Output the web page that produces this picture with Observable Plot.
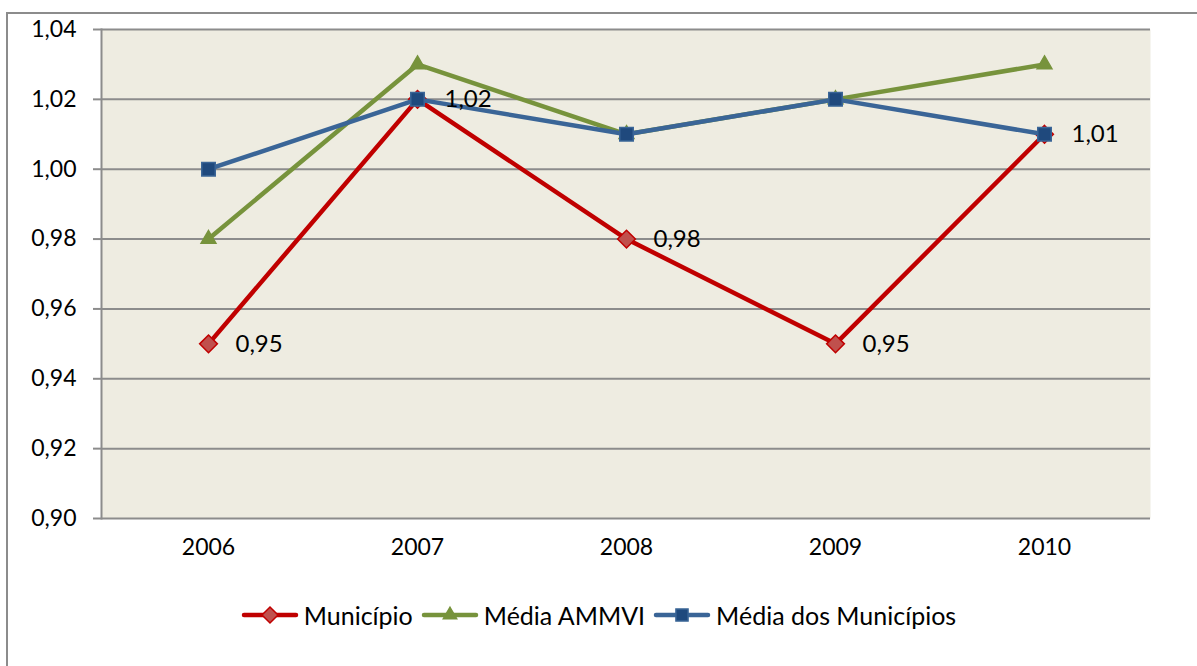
<!DOCTYPE html>
<html>
<head>
<meta charset="utf-8">
<script src="https://cdn.jsdelivr.net/npm/d3@7"></script>
<script src="https://cdn.jsdelivr.net/npm/@observablehq/plot@0.6"></script>
<style>
  html, body { margin: 0; padding: 0; background: #fff; }
  body { width: 1197px; height: 666px; position: relative; overflow: hidden; font-family: Lato, "Open Sans", sans-serif; }
  #border { position: absolute; left: 6px; top: 12px; width: 1200px; height: 700px; border-top: 2px solid #8c8c8c; border-left: 2px solid #8c8c8c; pointer-events: none; }
  #chart { position: absolute; left: 0; top: 0; }
  #legend { position: absolute; left: 0; top: 590px; width: 1197px; height: 50px; display: flex; justify-content: center; align-items: center; font-size: 25px; color: #000; }
  .item { display: flex; align-items: center; margin: 0 4px; }
  .item svg { margin-right: 5px; }
</style>
</head>
<body>
<div id="chart"></div>
<div id="legend"></div>
<div id="border"></div>
<script>
const years = ["2006", "2007", "2008", "2009", "2010"];
const municipio = [0.95, 1.02, 0.98, 0.95, 1.01];
const mediaAMMVI = [0.98, 1.03, 1.01, 1.02, 1.03];
const mediaMunicipios = [1.00, 1.02, 1.01, 1.02, 1.01];
const yTicks = [0.90, 0.92, 0.94, 0.96, 0.98, 1.00, 1.02, 1.04];
const seriesNames = ["Município", "Média AMMVI", "Média dos Municípios"];

const fmt = d => d.toFixed(2).replace(".", ",");
const rows = vals => years.map((y, i) => ({year: y, v: vals[i]}));

const styles = [
  {line: "#C00000", fill: "#C0504D", stroke: "#C00000", symbol: "diamond2", r: 8},
  {line: "#77933C", fill: "#77933C", stroke: "#77933C", symbol: "triangle", r: 5.5},
  {line: "#3A6597", fill: "#1F497D", stroke: "#3A6597", symbol: "square", r: 7.6}
];
const data = [municipio, mediaAMMVI, mediaMunicipios].map(rows);

const marks = [
  Plot.frame({fill: "#EEECE1", stroke: null}),
  Plot.ruleY(yTicks, {stroke: "#8c8c8c", strokeWidth: 2}),
  Plot.axisY({ticks: yTicks, tickFormat: fmt, tickSize: 8, tickPadding: 17, stroke: "#8c8c8c", strokeWidth: 2, fill: "#000", fontSize: 23}),
  Plot.axisX({tickSize: 0, tickPadding: 20, fill: "#000", fontSize: 23}),
  Plot.frame({anchor: "left", stroke: "#8c8c8c", strokeWidth: 2})
];
[0, 1, 2].forEach(k => {
  marks.push(Plot.line(data[k], {x: "year", y: "v", stroke: styles[k].line, strokeWidth: 4.5, strokeLinejoin: "round", strokeLinecap: "round"}));
  marks.push(Plot.dot(data[k], {x: "year", y: "v", symbol: styles[k].symbol, r: styles[k].r, fill: styles[k].fill, stroke: styles[k].stroke, strokeWidth: 1.5}));
});
marks.push(Plot.text(data[0], {x: "year", y: "v", text: d => fmt(d.v), dx: 27, textAnchor: "start", fill: "#000", fontSize: 24}));

const plot = Plot.plot({
  width: 1197,
  height: 590,
  marginLeft: 101,
  marginRight: 47,
  marginTop: 29,
  marginBottom: 72,
  style: {fontFamily: "Lato, 'Open Sans', sans-serif", color: "#000", background: "transparent"},
  x: {type: "point", domain: years, padding: 0.5, label: null},
  y: {domain: [0.90, 1.04], label: null},
  marks
});
document.getElementById("chart").appendChild(plot);

// legend
const legend = document.getElementById("legend");
const sym = {diamond2: d3.symbolDiamond2, triangle: d3.symbolTriangle, square: d3.symbolSquare};
seriesNames.forEach((name, k) => {
  const s = styles[k];
  const item = document.createElement("div");
  item.className = "item";
  const svg = d3.create("svg").attr("width", 58).attr("height", 22);
  svg.append("line").attr("x1", 3).attr("x2", 55).attr("y1", 11).attr("y2", 11)
    .attr("stroke", s.line).attr("stroke-width", 4.5).attr("stroke-linecap", "round");
  svg.append("path").attr("transform", "translate(29,11)")
    .attr("d", d3.symbol(sym[s.symbol], Math.pow(s.r * 0.9, 2) * Math.PI)())
    .attr("fill", s.fill).attr("stroke", s.stroke).attr("stroke-width", 1.5);
  item.appendChild(svg.node());
  const t = document.createElement("span");
  t.textContent = name;
  item.appendChild(t);
  legend.appendChild(item);
});
</script>
</body>
</html>
